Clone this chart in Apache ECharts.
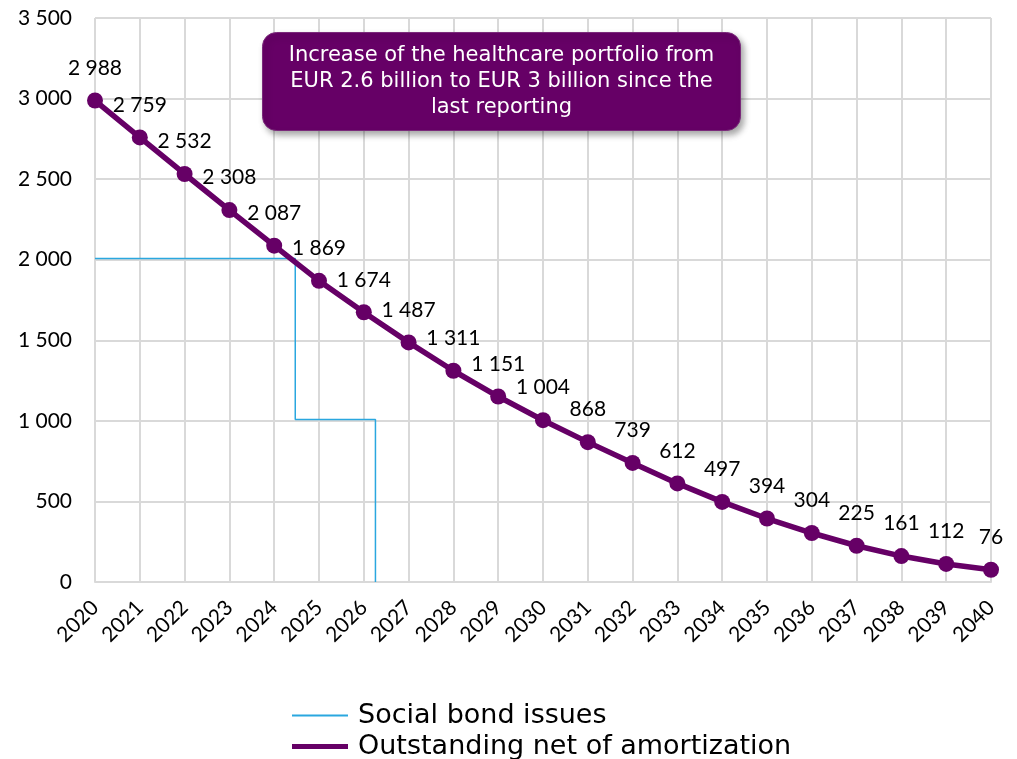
<!DOCTYPE html>
<html>
<head>
<meta charset="utf-8">
<script src="https://cdn.jsdelivr.net/npm/echarts@6/dist/echarts.min.js"></script>
<style>html,body{margin:0;padding:0;background:#fff;}#c{width:1017px;height:759px;}</style>
</head>
<body>
<div id="c"></div>
<script>
var years = [2020,2021,2022,2023,2024,2025,2026,2027,2028,2029,2030,2031,2032,2033,2034,2035,2036,2037,2038,2039,2040];
var outstanding = [2988,2759,2532,2308,2087,1869,1674,1487,1311,1151,1004,868,739,612,497,394,304,225,161,112,76];
var bondX = [2020, 2024.47, 2024.47, 2026.26, 2026.26];
var bondY = [2008, 2008, 1008, 1008, 0];
var seriesNames = ['Social bond issues', 'Outstanding net of amortization'];
var noteText = 'Increase of the healthcare portfolio from\nEUR 2.6 billion to EUR 3 billion since the\nlast reporting';

function fmt(v){ return String(v).replace(/\B(?=(\d{3})+(?!\d))/g, ' '); }

var chart = echarts.init(document.getElementById('c'), null, {renderer:'canvas'});
var purple = '#660066', blue = '#2aa7df';
chart.setOption({
  animation:false,
  backgroundColor:'#ffffff',
  grid:{left:95, right:26, top:18, bottom:177},
  xAxis:{
    type:'value', min:2020, max:2040, interval:1,
    axisLine:{show:true, lineStyle:{color:'#d9d9d9', width:2}},
    axisTick:{show:false},
    splitLine:{show:true, lineStyle:{color:'#d9d9d9', width:2}},
    axisLabel:{rotate:45, margin:22, padding:[6,0,0,0], color:'#000', fontFamily:'Lato', fontSize:21, formatter:function(v){return String(v);}}
  },
  yAxis:{
    type:'value', min:0, max:3500, interval:500,
    axisLine:{show:false}, axisTick:{show:false},
    splitLine:{show:true, lineStyle:{color:'#d9d9d9', width:2}},
    axisLabel:{margin:23, color:'#000', fontFamily:'Lato', fontSize:21, formatter:function(v){return fmt(v);}}
  },
  legend:[
    {data:[{name:seriesNames[0], icon:'rect'}], left:292, top:702, padding:0, itemWidth:56, itemHeight:2, itemGap:10,
     textStyle:{fontFamily:'DejaVu Sans', fontSize:27, color:'#000', padding:[0,0,0,5]}},
    {data:[{name:seriesNames[1], icon:'rect'}], left:292, top:733, padding:0, itemWidth:56, itemHeight:5, itemGap:10,
     textStyle:{fontFamily:'DejaVu Sans', fontSize:27, color:'#000', padding:[0,0,0,5]}}
  ],
  series:[
    {name:seriesNames[0], type:'line', symbol:'none', z:2,
     lineStyle:{color:blue, width:1.5}, itemStyle:{color:blue},
     data:bondX.map(function(x,i){return [x,bondY[i]];})},
    {name:seriesNames[1], type:'line', symbol:'circle', symbolSize:16, z:3,
     lineStyle:{color:purple, width:5.5}, itemStyle:{color:purple},
     label:{show:true, position:'top', distance:14, color:'#000', fontFamily:'Lato', fontSize:21,
            formatter:function(p){return fmt(p.value[1]);}},
     data:years.map(function(y,i){return [y,outstanding[i]];})}
  ],
  graphic:[
    {type:'group', left:262, top:32, z:100, children:[
      {type:'rect', z:100, shape:{x:0,y:0,width:478,height:98,r:14},
       style:{fill:purple, stroke:'#7a2a7a', lineWidth:1, shadowBlur:6, shadowOffsetX:3, shadowOffsetY:4, shadowColor:'rgba(0,0,0,0.35)'}},
      {type:'text', z:101, x:239, y:49,
       style:{text:noteText, fill:'#ffffff', font:'21px "DejaVu Sans"', align:'center', verticalAlign:'middle', lineHeight:26}}
    ]}
  ]
});
</script>
</body>
</html>
